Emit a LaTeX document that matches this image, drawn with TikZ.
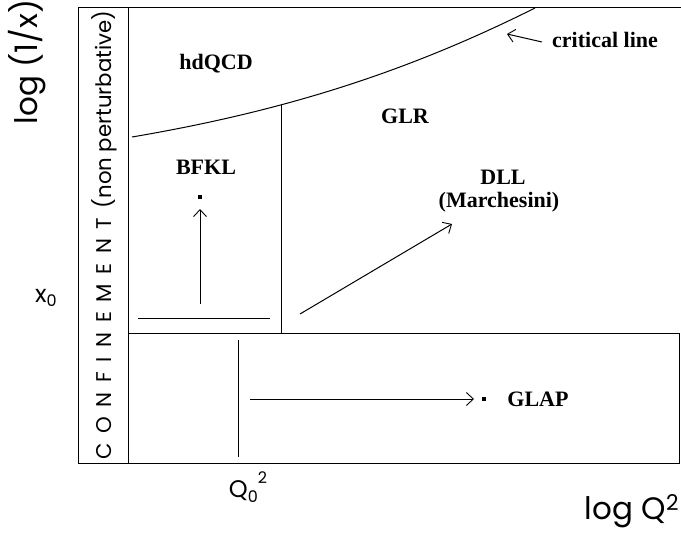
\documentclass[tikz,border=0pt]{standalone}
\usepackage{fontspec}
\setmainfont{Liberation Serif}
\newfontfamily\axisfont{Poppins}
\usetikzlibrary{arrows.meta}
\newcommand\lsp{\hspace{0.45em}}
\begin{document}
\begin{tikzpicture}[x=1pt,y=-1pt, line width=1pt,
  lab/.style={font=\fontsize{22}{24}\selectfont\bfseries, inner sep=0pt},
  axl/.style={font=\axisfont\fontsize{31}{34}\selectfont, inner sep=0pt},
  sml/.style={font=\axisfont\fontsize{24}{26}\selectfont, inner sep=0pt},
  arr/.style={-{Straight Barb[length=7pt,width=13pt,line width=0.9pt]}},
  dotbox/.style={fill, minimum size=3.5pt, inner sep=0pt}]
\useasboundingbox (0,0) rectangle (681,535);
% frame
\draw (78,8) -- (681,8);
\draw (78,8) rectangle (128,463);
\draw (128,333) -- (679,333) -- (679,463) -- (128,463);
% critical line
\draw (132,137) .. controls (282,111.5) and (405,73) .. (535,8);
\draw (281,105) -- (281,333);
\draw (138,318) -- (270,318);
\draw (238,340) -- (238,457);
% labels
\node[lab] (hd) at (216,64) {hdQCD};
\node[lab] (glr) at (405,116) {GLR};
\node[lab] (bfkl) at (206,167) {BFKL};
\node[lab, anchor=south] (dll) at (503,185) {DLL};
\node[lab, anchor=north] (mar) at (499,192) {(Marchesini)};
\node[lab] (glap) at (538,399) {GLAP};
\node[lab] (crit) at (605,40) {critical line};
% dots
\node[dotbox] (bdot) at (200,197) {};
\node[dotbox] (gdot) at (484,399) {};
% arrows
\coordinate (bs) at (200,304);
\coordinate (bt) at (200,209);
\draw[arr] (bs) -- (bt);
\coordinate (ds) at (300,314);
\coordinate (dt) at (452,224);
\draw[arr] (ds) -- (dt);
\coordinate (gs) at (250,399);
\coordinate (gt) at (474,399);
\draw[arr] (gs) -- (gt);
\coordinate (cs) at (542,42);
\coordinate (ct) at (507,34);
\draw[arr] (cs) -- (ct);
% axis labels
\node[axl, rotate=90] (ylab) at (27,62) {log (1/x)};
\node[axl] (xlab) at (632,511) {log Q\textsuperscript{2}};
\node[sml] (x0) at (46,298) {x\raisebox{-0.35ex}{\fontsize{16}{17}\selectfont 0}};
\node[sml] (q0) at (248,487) {Q\raisebox{-0.35ex}{\fontsize{16}{17}\selectfont 0}\raisebox{1.1ex}{\fontsize{16}{17}\selectfont 2}};
\node[font=\axisfont\fontsize{21.3}{23}\selectfont, inner sep=0pt, rotate=90] (conf) at (104,235)
  {C\lsp O\lsp N\lsp F\lsp I\lsp N\lsp E\lsp M\lsp E\lsp N\lsp T\lsp(non perturbative)};
\end{tikzpicture}
\end{document}
